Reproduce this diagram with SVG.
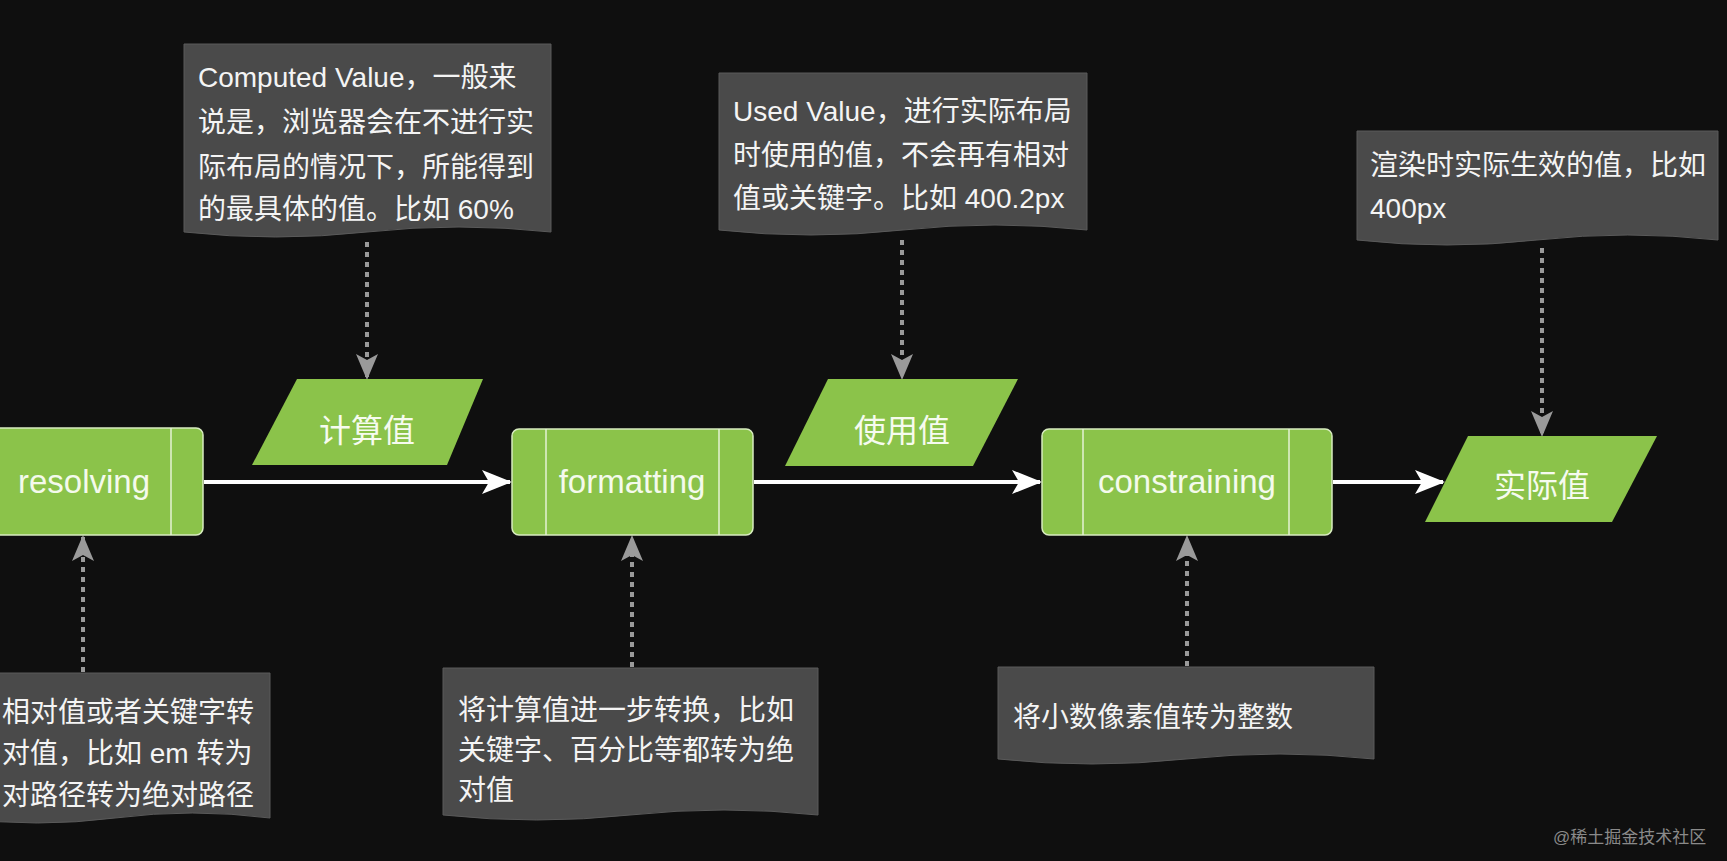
<svg xmlns="http://www.w3.org/2000/svg" width="1727" height="861" viewBox="0 0 1727 861">
<defs>
<style>
.bg{fill:#0f0f0f}
.doc{fill:#4a4a4a;stroke:#5a5a5a;stroke-width:1}
.dt{font-family:"Liberation Sans","Noto Sans CJK SC",sans-serif;font-size:28px;fill:#f4f4f4}
.box{fill:#8bc34a;stroke:#d8ecc0;stroke-width:1.5}
.div{stroke:#e4f2d4;stroke-width:1.5}
.bt{font-family:"Liberation Sans","Noto Sans CJK SC",sans-serif;font-size:33px;fill:#f4faec;text-anchor:middle}
.par{fill:#8bc34a}
.pt{font-family:"Liberation Sans","Noto Sans CJK SC",sans-serif;font-size:32px;fill:#f6fbef;text-anchor:middle}
.flow{stroke:#ffffff;stroke-width:4;fill:none}
.dot{stroke:#9a9a9a;stroke-width:4;stroke-dasharray:5 5;fill:none}
.wm{font-family:"Liberation Sans","Noto Sans CJK SC",sans-serif;font-size:17px;fill:#8a8a8a}
</style>
<marker id="wa" viewBox="0 0 30 30" refX="28" refY="15" markerWidth="30" markerHeight="30" markerUnits="userSpaceOnUse" orient="auto">
<path d="M0,3 L30,15 L0,27 L7,15 Z" fill="#ffffff"/>
</marker>
<marker id="ga" viewBox="0 0 26 26" refX="24" refY="13" markerWidth="26" markerHeight="26" markerUnits="userSpaceOnUse" orient="auto">
<path d="M0,2 L26,13 L0,24 L6,13 Z" fill="#9a9a9a"/>
</marker>
</defs>
<rect class="bg" x="0" y="0" width="1727" height="861"/>

<g id="connectors">
<line class="flow" x1="204" y1="482" x2="510" y2="482" marker-end="url(#wa)"/>
<line class="flow" x1="754" y1="482" x2="1040" y2="482" marker-end="url(#wa)"/>
<line class="flow" x1="1333" y1="482" x2="1443" y2="482" marker-end="url(#wa)"/>
<line class="dot" x1="367" y1="242" x2="367" y2="378" marker-end="url(#ga)"/>
<line class="dot" x1="902" y1="240" x2="902" y2="378" marker-end="url(#ga)"/>
<line class="dot" x1="1542" y1="248" x2="1542" y2="435" marker-end="url(#ga)"/>
<line class="dot" x1="83" y1="672" x2="83" y2="537" marker-end="url(#ga)"/>
<line class="dot" x1="632" y1="667" x2="632" y2="537" marker-end="url(#ga)"/>
<line class="dot" x1="1187" y1="666" x2="1187" y2="537" marker-end="url(#ga)"/>
</g>

<g id="doc-computed">
<path class="doc" d="M184,44 H551 V232 Q459,222 367,232 Q276,242 184,232 Z"/>
<text class="dt" x="198" y="87">Computed Value，一般来</text>
<text class="dt" x="198" y="132">说是，浏览器会在不进行实</text>
<text class="dt" x="198" y="177">际布局的情况下，所能得到</text>
<text class="dt" x="198" y="219">的最具体的值。比如 60%</text>
</g>

<g id="doc-used">
<path class="doc" d="M719,73 H1087 V230 Q995,220 903,230 Q811,240 719,230 Z"/>
<text class="dt" x="733" y="121">Used Value，进行实际布局</text>
<text class="dt" x="733" y="165">时使用的值，不会再有相对</text>
<text class="dt" x="733" y="208">值或关键字。比如 400.2px</text>
</g>

<g id="doc-actual">
<path class="doc" d="M1357,131 H1718 V240 Q1628,230 1537,240 Q1447,250 1357,240 Z"/>
<text class="dt" x="1370" y="175">渲染时实际生效的值，比如</text>
<text class="dt" x="1370" y="218">400px</text>
</g>

<g id="node-resolving">
<rect class="box" x="-37" y="428" width="240" height="107" rx="7"/>
<line class="div" x1="171" y1="428" x2="171" y2="535"/>
<text class="bt" x="84" y="493">resolving</text>
</g>

<g id="node-computed">
<polygon class="par" points="297,379 483,379 447,465 252,465"/>
<text class="pt" x="367" y="442">计算值</text>
</g>

<g id="node-formatting">
<rect class="box" x="512" y="429" width="241" height="106" rx="7"/>
<line class="div" x1="546" y1="429" x2="546" y2="535"/>
<line class="div" x1="719" y1="429" x2="719" y2="535"/>
<text class="bt" x="632" y="493">formatting</text>
</g>

<g id="node-used">
<polygon class="par" points="828,379 1018,379 973,466 785,466"/>
<text class="pt" x="902" y="442">使用值</text>
</g>

<g id="node-constraining">
<rect class="box" x="1042" y="429" width="290" height="106" rx="7"/>
<line class="div" x1="1083" y1="429" x2="1083" y2="535"/>
<line class="div" x1="1289" y1="429" x2="1289" y2="535"/>
<text class="bt" x="1187" y="493">constraining</text>
</g>

<g id="node-actual">
<polygon class="par" points="1468,436 1657,436 1612,522 1425,522"/>
<text class="pt" x="1542" y="497">实际值</text>
</g>

<g id="doc-resolving">
<path class="doc" d="M-40,673 H270 V818 Q192,808 115,818 Q37,828 -40,818 Z"/>
<text class="dt" x="2" y="722">相对值或者关键字转</text>
<text class="dt" x="2" y="763">对值，比如 em 转为</text>
<text class="dt" x="2" y="805">对路径转为绝对路径</text>
</g>

<g id="doc-formatting">
<path class="doc" d="M443,668 H818 V815 Q724,805 630,815 Q537,825 443,815 Z"/>
<text class="dt" x="458" y="720">将计算值进一步转换，比如</text>
<text class="dt" x="458" y="760">关键字、百分比等都转为绝</text>
<text class="dt" x="458" y="800">对值</text>
</g>

<g id="doc-constraining">
<path class="doc" d="M998,667 H1374 V759 Q1280,749 1186,759 Q1092,769 998,759 Z"/>
<text class="dt" x="1013" y="727">将小数像素值转为整数</text>
</g>

<text class="wm" x="1553" y="843">@稀土掘金技术社区</text>
</svg>
